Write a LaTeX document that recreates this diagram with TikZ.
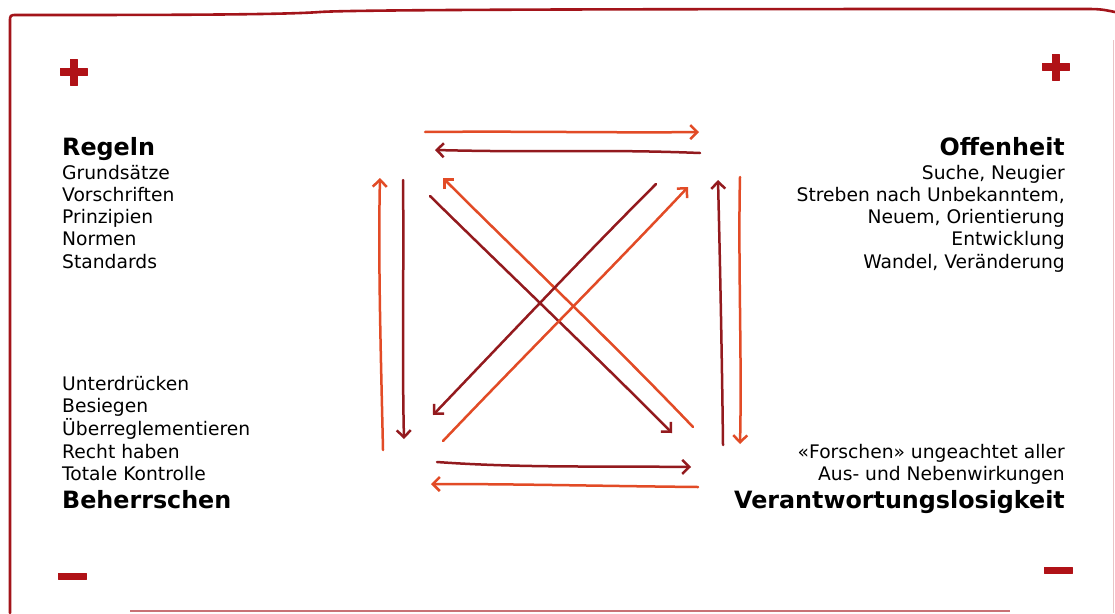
\documentclass[tikz,border=0pt]{standalone}
\usepackage{fontspec}
\setmainfont{DejaVu Sans}
\usetikzlibrary{arrows.meta}
\definecolor{orangered}{HTML}{E24B26}
\definecolor{darkred}{HTML}{931A1E}
\definecolor{signred}{HTML}{B01217}
\definecolor{framered}{HTML}{A3141A}
\tikzset{
  arr/.style={line width=2.5pt, line cap=round, -{Straight Barb[length=7pt,width=14pt,line width=2.5pt]}},
  oarr/.style={arr, orangered},
  darr/.style={arr, darkred},
  txt/.style={inner sep=0pt, font=\fontsize{18.7}{22}\selectfont},
  head/.style={inner sep=0pt, font=\fontsize{23.8}{27}\selectfont\bfseries},
  sign/.style={fill=signred, draw=signred, line width=1pt, line join=round},
}
\begin{document}
\begin{tikzpicture}[x=1pt,y=-1pt]
\useasboundingbox (0,0) rectangle (1115,613);
\fill[white] (0,0) rectangle (1115,613);
% frame
\draw[framered, line width=2.6pt, line cap=round, line join=round]
  (10,613) -- (10,22) .. controls (10,15) .. (17,15)
  .. controls (150,15) and (280,15) .. (320,12)
  .. controls (360,9) and (800,9) .. (1080,9)
  .. controls (1100,9) .. (1115,12);
\draw[framered!60, line width=2pt] (130,611) -- (1010,611);
\draw[framered!25, line width=1pt] (1113,40) -- (1113,613);
% signs
\filldraw[sign] (60,68) rectangle (87,75);
\filldraw[sign] (70,59) rectangle (77,85);
\filldraw[sign] (1042,63) rectangle (1069,70);
\filldraw[sign] (1052,54) rectangle (1059,80);
\filldraw[sign] (58,573) rectangle (86,579);
\filldraw[sign] (1044,567) rectangle (1072,573);
% left texts
\node[head, anchor=base west] (regeln) at (62,155) {Regeln};
\node[txt, anchor=base west] (l1) at (62,179) {Grundsätze};
\node[txt, anchor=base west] (l2) at (62,201.3) {Vorschriften};
\node[txt, anchor=base west] (l3) at (62,223.6) {Prinzipien};
\node[txt, anchor=base west] (l4) at (62,245.9) {Normen};
\node[txt, anchor=base west] (l5) at (62,268.2) {Standards};
\node[txt, anchor=base west] (b1) at (62,390) {Unterdrücken};
\node[txt, anchor=base west] (b2) at (62,412.7) {Besiegen};
\node[txt, anchor=base west] (b3) at (62,435.4) {Überreglementieren};
\node[txt, anchor=base west] (b4) at (62,458.1) {Recht haben};
\node[txt, anchor=base west] (b5) at (62,480.8) {Totale Kontrolle};
\node[head, anchor=base west] (beh) at (62,508) {Beherrschen};
% right texts
\node[head, anchor=base east] (offen) at (1065,155) {Offenheit};
\node[txt, anchor=base east] (r1) at (1065,179) {Suche, Neugier};
\node[txt, anchor=base east] (r2) at (1065,201.3) {Streben nach Unbekanntem,};
\node[txt, anchor=base east] (r3) at (1065,223.6) {Neuem, Orientierung};
\node[txt, anchor=base east] (r4) at (1065,245.9) {Entwicklung};
\node[txt, anchor=base east] (r5) at (1065,268.2) {Wandel, Veränderung};
\node[txt, anchor=base east] (s1) at (1065,458.1) {«Forschen» ungeachtet aller};
\node[txt, anchor=base east] (s2) at (1065,480.8) {Aus- und Nebenwirkungen};
\node[head, anchor=base east] (ver) at (1065,508) {Verantwortungslosigkeit};
% arrow end points
\coordinate (t1a) at (425,132); \coordinate (t1b) at (699,132);
\coordinate (t2a) at (700,153); \coordinate (t2b) at (435,150);
\coordinate (b1a) at (437,462); \coordinate (b1b) at (691,467);
\coordinate (b2a) at (698,487); \coordinate (b2b) at (431,484);
\coordinate (l1a) at (383,450); \coordinate (l1b) at (380,178);
\coordinate (l2a) at (403,180); \coordinate (l2b) at (404,439);
\coordinate (r1a) at (723,445); \coordinate (r1b) at (718,180);
\coordinate (r2a) at (740,177); \coordinate (r2b) at (740,444);
\coordinate (d1a) at (430,196); \coordinate (d1b) at (672,433);
\coordinate (d2a) at (693,427); \coordinate (d2b) at (443,178);
\coordinate (d3a) at (656,184); \coordinate (d3b) at (433,415);
\coordinate (d4a) at (443,441); \coordinate (d4b) at (688,187);
% horizontal arrows
\draw[oarr] (t1a) .. controls (520,131) and (620,133) .. (t1b);
\draw[darr] (t2a) .. controls (600,149) and (560,153) .. (t2b);
\draw[darr] (b1a) .. controls (520,468) and (600,466) .. (b1b);
\draw[oarr] (b2a) .. controls (600,486) and (520,484) .. (b2b);
% vertical arrows
\draw[oarr] (l1a) .. controls (381,360) and (378,260) .. (l1b);
\draw[darr] (l2a) .. controls (404,260) and (402,360) .. (l2b);
\draw[darr] (r1a) .. controls (722,360) and (720,260) .. (r1b);
\draw[oarr] (r2a) .. controls (738,260) and (742,360) .. (r2b);
% diagonal arrows
\draw[darr] (d1a) .. controls (500,265) and (600,360) .. (d1b);
\draw[oarr] (d2a) .. controls (610,340) and (520,255) .. (d2b);
\draw[darr] (d3a) .. controls (580,260) and (500,345) .. (d3b);
\draw[oarr] (d4a) .. controls (520,360) and (610,270) .. (d4b);
\end{tikzpicture}
\end{document}
